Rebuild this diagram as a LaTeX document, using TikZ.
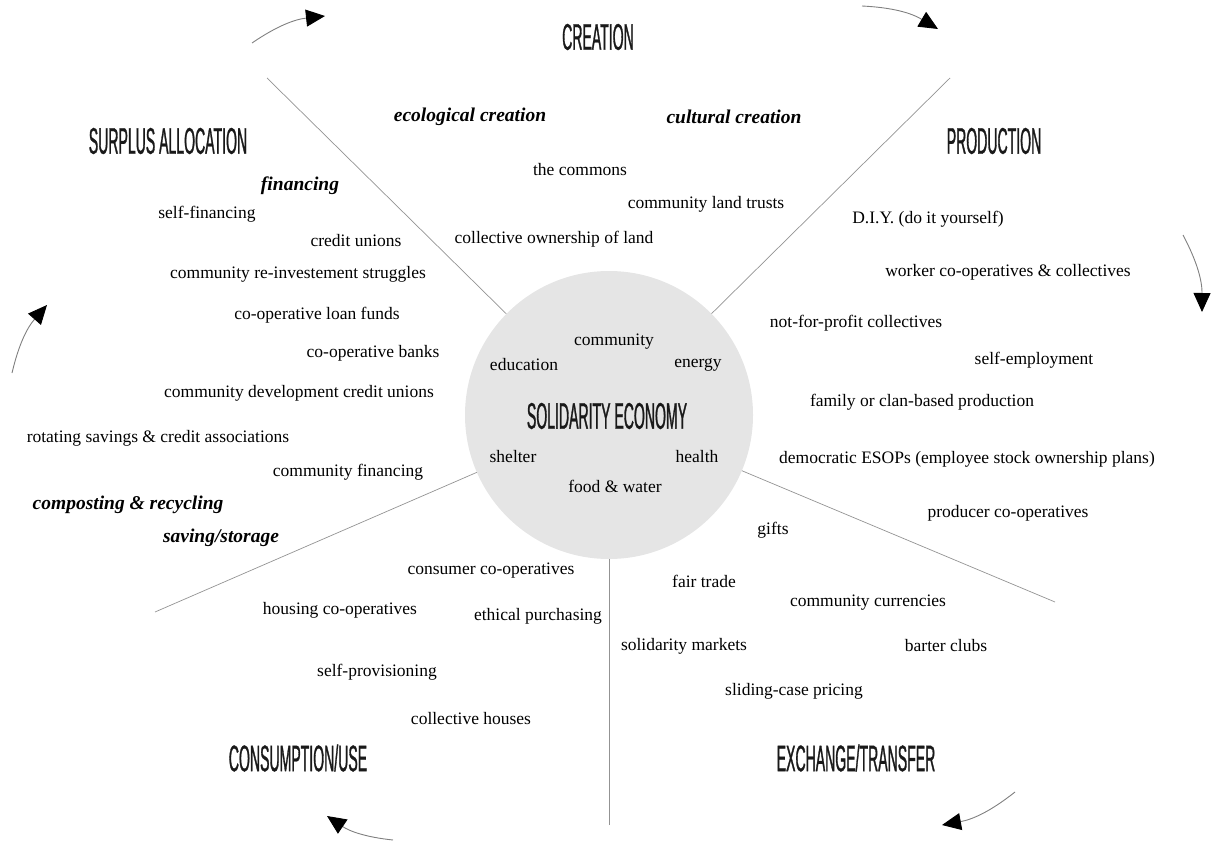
\documentclass[tikz,border=0pt]{standalone}
\usepackage{fontspec}
\setmainfont{Liberation Serif}
\newfontfamily\headfont[FakeStretch=0.38,FakeBold=0.8]{Liberation Sans}
\usetikzlibrary{arrows.meta}

\begin{document}
\begin{tikzpicture}[x=1pt,y=-1pt,
  txt/.style={font=\fontsize{17.5}{20}\selectfont, inner sep=0pt},
  bit/.style={font=\fontsize{19.5}{22}\selectfont\bfseries\itshape, inner sep=0pt},
  head/.style={font=\headfont\fontsize{37}{40}\selectfont, inner sep=0pt, text=black!90},
  spoke/.style={gray!85, line width=0.7pt},
  turn/.style={gray, line width=0.9pt, -{Triangle[length=19pt,width=17pt,color=black]}}]

\useasboundingbox (0,0) rectangle (1217,842);

% the centre
\node[circle, fill=black!10, minimum size=288pt, inner sep=0pt] (se) at (609,415) {};
\node[head] (seh) at (607,416) {SOLIDARITY ECONOMY};
\node[txt] (comm) at (614,342) {community};
\node[txt] (edu) at (524,365) {education};
\node[txt] (ener) at (698,365) {energy};
\node[txt] (shel) at (513,457) {shelter};
\node[txt] (heal) at (697,457) {health};
\node[txt] (food) at (615,486) {food \& water};

% spokes
\coordinate (sp1) at (267,78);
\coordinate (sp2) at (950,78);
\coordinate (sp3) at (1055,602);
\coordinate (sp4) at (609,825);
\coordinate (sp5) at (155,612);
\foreach \s in {sp1,sp2,sp3,sp4,sp5}
  \draw[spoke] (\s) -- (se);

% sector titles
\node[head] (creat) at (598,37) {CREATION};
\node[head] (prod) at (994,141) {PRODUCTION};
\node[head] (exch) at (856,758) {EXCHANGE/TRANSFER};
\node[head] (cons) at (298,758) {CONSUMPTION/USE};
\node[head] (surp) at (168,141) {SURPLUS ALLOCATION};

% creation
\node[bit] (eco) at (470,117) {ecological creation};
\node[bit] (cult) at (734,117) {cultural creation};
\node[txt] (commons) at (580,170) {the commons};
\node[txt] (clt) at (706,204) {community land trusts};
\node[txt] (col) at (554,239) {collective ownership of land};

% production
\node[txt] (diy) at (928,219) {D.I.Y. (do it yourself)};
\node[txt] (wco) at (1008,272) {worker co-operatives \& collectives};
\node[txt] (nfp) at (856,323) {not-for-profit collectives};
\node[txt] (semp) at (1034,360) {self-employment};
\node[txt] (fam) at (922,402) {family or clan-based production};
\node[txt] (esop) at (967,459) {democratic ESOPs (employee stock ownership plans)};
\node[txt] (pco) at (1008,513) {producer co-operatives};

% exchange
\node[txt] (gift) at (773,530) {gifts};
\node[txt] (fair) at (704,581) {fair trade};
\node[txt] (curr) at (868,603) {community currencies};
\node[txt] (bart) at (946,646) {barter clubs};
\node[txt] (smark) at (684,646) {solidarity markets};
\node[txt] (slid) at (794,691) {sliding-case pricing};

% consumption
\node[txt] (cco) at (491,571) {consumer co-operatives};
\node[txt] (hco) at (340,610) {housing co-operatives};
\node[txt] (eth) at (538,616) {ethical purchasing};
\node[txt] (sprov) at (377,672) {self-provisioning};
\node[txt] (chous) at (471,719) {collective houses};

% surplus
\node[bit] (fin) at (300,186) {financing};
\node[txt] (sfin) at (207,214) {self-financing};
\node[txt] (cu) at (356,241) {credit unions};
\node[txt] (reinv) at (298,274) {community re-investement struggles};
\node[txt] (loan) at (317,315) {co-operative loan funds};
\node[txt] (bank) at (373,353) {co-operative banks};
\node[txt] (cdcu) at (299,393) {community development credit unions};
\node[txt] (rosca) at (158,438) {rotating savings \& credit associations};
\node[txt] (cfin) at (348,472) {community financing};
\node[bit] (comp) at (128,505) {composting \& recycling};
\node[bit] (sav) at (221,538) {saving/storage};

% turning arrows
\coordinate (a1) at (252,43);  \coordinate (b1) at (325,16);
\coordinate (a2) at (862,6);   \coordinate (b2) at (938,29);
\coordinate (a3) at (1183,235); \coordinate (b3) at (1202,312);
\coordinate (a4) at (1015,792); \coordinate (b4) at (942,825);
\coordinate (a5) at (393,840); \coordinate (b5) at (327,816);
\coordinate (a6) at (12,373);  \coordinate (b6) at (47,305);
\foreach \i in {1,...,6}
  \draw[turn] (a\i) to[bend left=14] (b\i);

\end{tikzpicture}
\end{document}
